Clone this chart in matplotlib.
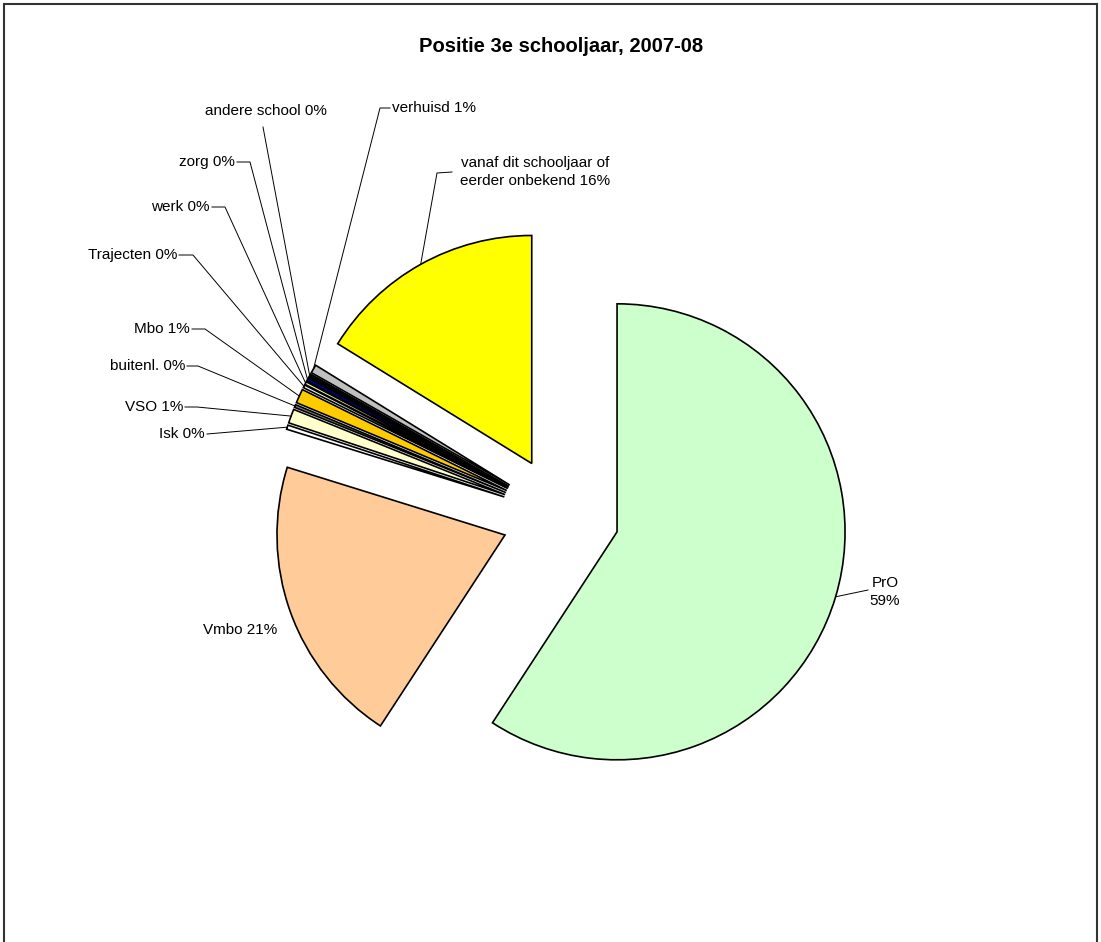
import numpy as np
import matplotlib
matplotlib.use("Agg")
import matplotlib.pyplot as plt
from matplotlib.patches import Rectangle

plt.rcParams['font.family'] = ['Liberation Sans', 'DejaVu Sans']

# data (percentages)
names = ["PrO", "Vmbo", "Isk", "VSO", "buitenl.", "Mbo", "Trajecten", "werk",
         "zorg", "andere school", "verhuisd",
         "vanaf dit schooljaar of\neerder onbekend"]
pct = [59.2, 20.6, 0.3, 1.0, 0.2, 1.0, 0.2, 0.2, 0.25, 0.25, 0.6, 16.2]
colors = ["#CCFFCC", "#FFCC99", "#FFFFFF", "#FFFFCC", "#808080", "#FFCC00",
          "#FFFFFF", "#FFFF99", "#000080", "#000000", "#C0C0C0", "#FFFF00"]
sep = ["\n", " ", " ", " ", " ", " ", " ", " ", " ", " ", " ", " "]

W, H = 1101, 942
CENTER = (560.5, -515)
RADIUS = 228
EXPLODE = 59

# label layout in pixel coords (y down): text pos, ha, leader points
layout = [
    ((885, 592), "center", [(868, 590)]),
    ((277, 630), "right", None),
    ((205, 434), "right", [(207, 434)]),
    ((183, 407), "right", [(185, 407), (197, 407)]),
    ((185, 366), "right", [(187, 366), (198, 366)]),
    ((190, 329), "right", [(192, 329), (205, 329)]),
    ((177, 255), "right", [(179, 255), (193, 255)]),
    ((210, 207), "right", [(212, 207), (225, 207)]),
    ((235, 162), "right", [(237, 162), (250, 162)]),
    ((266, 111), "center", [(263, 127)]),
    ((392, 108), "left", [(390, 108), (380, 108)]),
    ((535, 172), "center", [(452, 172), (437, 173)]),
]

fig = plt.figure(figsize=(W / 100, H / 100), dpi=100)
ax = fig.add_axes([0, 0, 1, 1])

wedges, _ = ax.pie(pct, colors=colors, startangle=90, counterclock=False,
                   explode=[EXPLODE] * len(pct), center=CENTER, radius=RADIUS,
                   wedgeprops=dict(edgecolor="black", linewidth=1.2))

for w, name, p, s, (tpos, ha, pts) in zip(wedges, names, pct, sep, layout):
    ax.text(tpos[0], -tpos[1], f"{name}{s}{round(p)}%", ha=ha, va="center",
            fontsize=11, linespacing=1.3)
    if pts is None:
        continue
    # leader goes to middle of the wedge's arc
    tm = np.deg2rad((w.theta1 + w.theta2) / 2)
    cx, cy = w.center
    ex, ey = cx + w.r * np.cos(tm), cy + w.r * np.sin(tm)
    xs = [q[0] for q in pts] + [ex]
    ys = [-q[1] for q in pts] + [ey]
    ax.plot(xs, ys, color="black", lw=0.7)

ax.text(561, -47, "Positie 3e schooljaar, 2007-08", ha="center", va="center",
        fontsize=14.5, fontweight="bold")

ax.add_patch(Rectangle((4, -980), W - 8, 976, fill=False, edgecolor="#333333",
                       lw=1.5, clip_on=False))

ax.set_xlim(0, W)
ax.set_ylim(-H, 0)
ax.set_aspect("equal")
ax.axis("off")

fig.savefig("out.png", dpi=100)
